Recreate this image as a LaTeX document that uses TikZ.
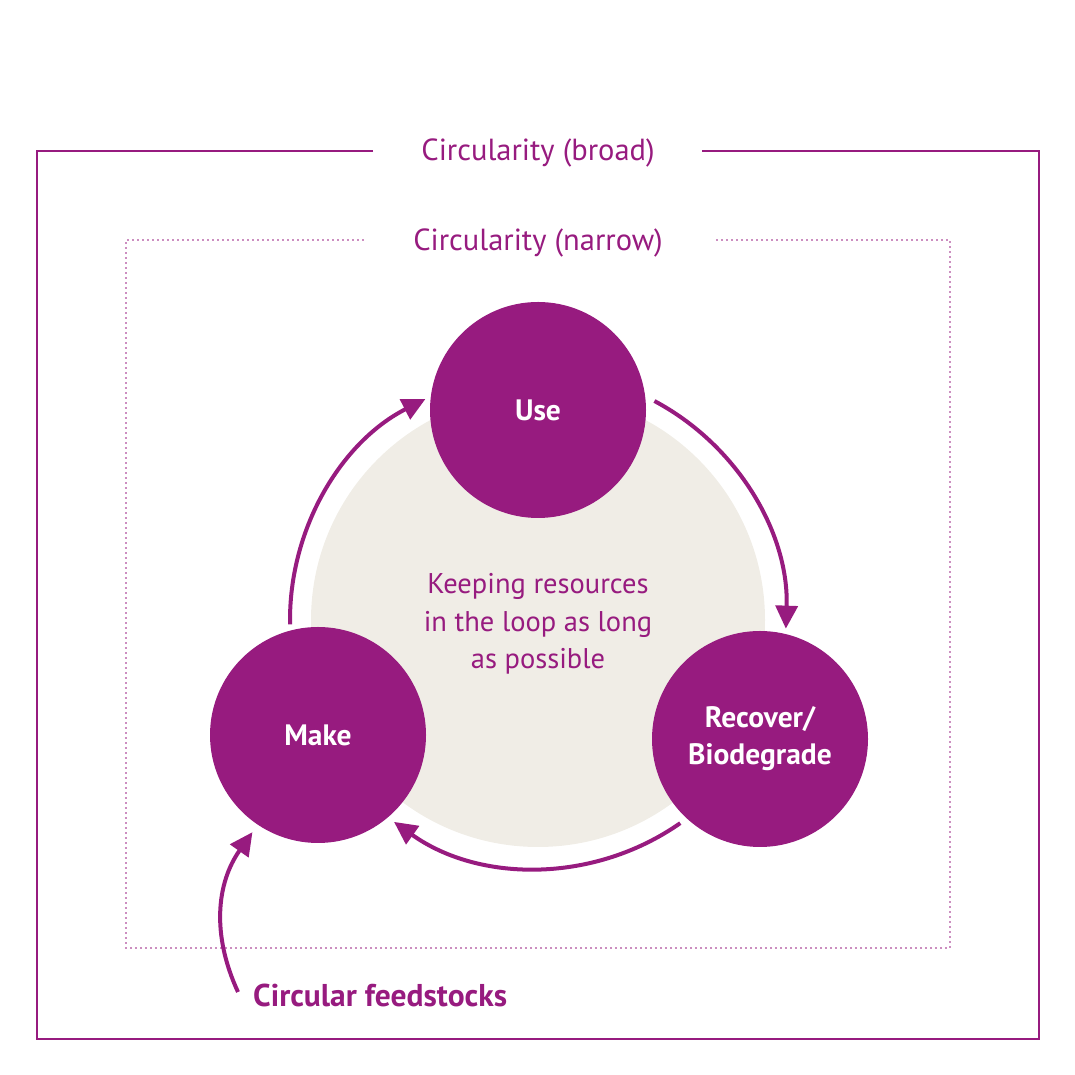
\documentclass[tikz,border=0pt]{standalone}
\usepackage{fontspec}
\setmainfont{PT Sans}
\usetikzlibrary{arrows.meta,calc}
\definecolor{plum}{HTML}{971B7F}
\definecolor{sand}{HTML}{F0EDE6}

\begin{document}
\begin{tikzpicture}[x=1pt,y=1pt,
    stage/.style={circle,fill=plum,minimum size=216pt,inner sep=0pt,text=white,align=center,
      font=\fontsize{29.5}{37}\selectfont\bfseries},
    loopy/.style={draw=plum,line width=4pt,-{Triangle[length=23pt,width=22pt]}}]
  \useasboundingbox (0,0) rectangle (1075,1075);

  % broad frame
  \node[text=plum,font=\fontsize{30.5}{34}\selectfont] (broad) at (538,922) {Circularity (broad)};
  \draw[plum,line width=1.8pt] (373,924) -- (37,924) -- (37,36) -- (1039,36) -- (1039,924) -- (702,924);

  % narrow frame
  \node[text=plum,font=\fontsize{30.5}{34}\selectfont] (narrow) at (538,832) {Circularity (narrow)};
  \draw[plum,line width=1.6pt,line cap=round,dash pattern=on 0pt off 5pt]
    (363,835) -- (126,835) -- (126,127) -- (950,127) -- (950,835) -- (713,835);

  % loop
  \coordinate (c) at (538,455);
  \fill[sand] (c) circle (227);
  \node[text=plum,align=center,font=\fontsize{28.5}{37.5}\selectfont] (keep) at (538,451)
    {Keeping resources\\in the loop as long\\as possible};

  \node[stage] (use) at (538,665) {Use};
  \node[stage] (make) at (318,340) {Make};
  \node[stage] (recover) at (760,336) {Recover/\\Biodegrade};

  \coordinate (m0) at ($(c)+(181:248)$);
  \coordinate (u0) at ($(c)+(62:248)$);
  \coordinate (r0) at ($(c)+(-55:248)$);
  \draw[loopy] (m0) arc[start angle=181,end angle=117,radius=248];
  \draw[loopy] (u0) arc[start angle=62,end angle=-2,radius=248];
  \draw[loopy] (r0) arc[start angle=-55,end angle=-125.5,radius=248];

  % feedstocks
  \node[anchor=west,text=plum,inner sep=0pt,font=\fontsize{31.5}{34}\selectfont\bfseries] (feedlabel) at (253,80)
    {Circular feedstocks};
  \coordinate (feed) at (238,83);
  \coordinate (feedtip) at ($(make.236)+(236:9)$);
  \draw[loopy] (feed) to[bend left=30] (feedtip);
\end{tikzpicture}
\end{document}
